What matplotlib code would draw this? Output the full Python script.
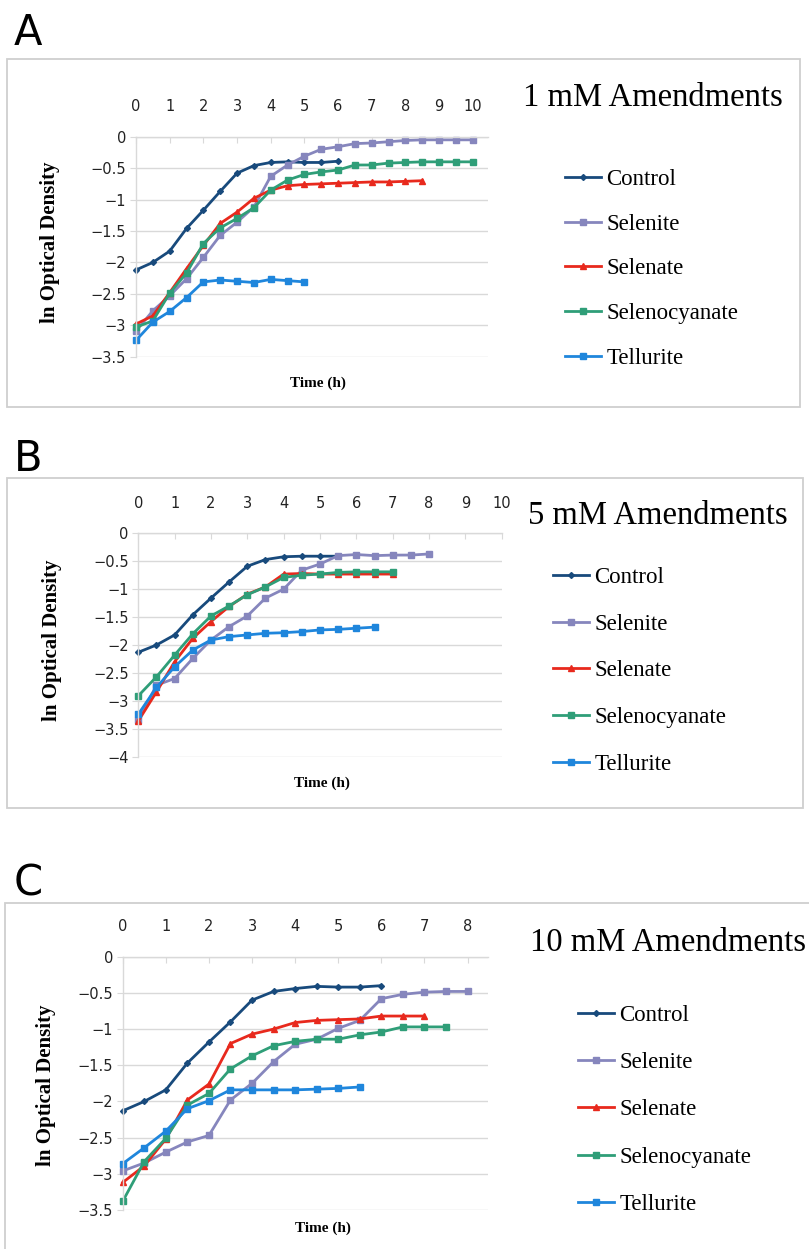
import matplotlib
matplotlib.use("Agg")
import matplotlib.pyplot as plt
from matplotlib.patches import Rectangle

W, H = 809, 1249

series_names = ["Control", "Selenite", "Selenate", "Selenocyanate", "Tellurite"]
colors = ["#184a7c", "#8686bd", "#e8291d", "#2f9e78", "#1f86dc"]
markers = ["D", "s", "^", "s", "s"]
msizes = [3, 4, 4.5, 4, 4]

# --- 1 mM ---
a_control = [-2.12, -2.0, -1.82, -1.46, -1.17, -0.87, -0.58, -0.46, -0.41, -0.4, -0.41, -0.41, -0.39]
a_selenite = [-3.09, -2.77, -2.53, -2.26, -1.92, -1.57, -1.36, -1.12, -0.63, -0.45, -0.31,
              -0.2, -0.16, -0.11, -0.1, -0.08, -0.06, -0.05, -0.05, -0.05, -0.05]
a_selenate = [-2.98, -2.85, -2.48, -2.1, -1.73, -1.38, -1.2, -0.98, -0.85, -0.78, -0.76,
              -0.75, -0.74, -0.73, -0.72, -0.72, -0.71, -0.7]
a_selenocyanate = [-3.03, -2.93, -2.49, -2.17, -1.7, -1.45, -1.3, -1.13, -0.85, -0.69, -0.6,
                   -0.56, -0.53, -0.45, -0.45, -0.42, -0.41, -0.4, -0.4, -0.4, -0.4]
a_tellurite = [-3.24, -2.95, -2.78, -2.56, -2.31, -2.28, -2.3, -2.32, -2.27, -2.29, -2.31]

# --- 5 mM ---
b_control = [-2.13, -2.0, -1.82, -1.46, -1.16, -0.87, -0.59, -0.47, -0.42, -0.41, -0.41, -0.41]
b_selenite = [-3.35, -2.72, -2.6, -2.24, -1.91, -1.67, -1.48, -1.16, -1.0, -0.66, -0.55,
              -0.4, -0.38, -0.4, -0.39, -0.39, -0.37]
b_selenate = [-3.36, -2.84, -2.3, -1.88, -1.58, -1.31, -1.09, -0.96, -0.73, -0.72, -0.73,
              -0.73, -0.73, -0.73, -0.73]
b_selenocyanate = [-2.91, -2.57, -2.18, -1.8, -1.48, -1.3, -1.1, -0.96, -0.79, -0.75, -0.73,
                   -0.7, -0.69, -0.69, -0.69]
b_tellurite = [-3.24, -2.76, -2.39, -2.09, -1.91, -1.85, -1.82, -1.79, -1.78, -1.76, -1.73,
               -1.72, -1.7, -1.68]

# --- 10 mM ---
c_control = [-2.13, -2.0, -1.84, -1.47, -1.18, -0.9, -0.6, -0.48, -0.44, -0.41, -0.42, -0.42, -0.4]
c_selenite = [-2.96, -2.85, -2.7, -2.56, -2.47, -1.98, -1.75, -1.45, -1.21, -1.14, -0.99,
              -0.88, -0.58, -0.52, -0.49, -0.48, -0.48]
c_selenate = [-3.12, -2.89, -2.52, -1.98, -1.76, -1.2, -1.07, -1.0, -0.91, -0.88, -0.87,
              -0.86, -0.82, -0.82, -0.82]
c_selenocyanate = [-3.38, -2.83, -2.51, -2.05, -1.89, -1.55, -1.37, -1.23, -1.17, -1.14, -1.14,
                   -1.08, -1.04, -0.97, -0.97, -0.97]
c_tellurite = [-2.86, -2.64, -2.41, -2.1, -1.99, -1.84, -1.84, -1.84, -1.84, -1.83, -1.82, -1.8]

panels = [
    dict(letter="A", title="1 mM Amendments",
         data=[a_control, a_selenite, a_selenate, a_selenocyanate, a_tellurite],
         xmax=10, xlim=10.45, ymin=-3.5,
         plot=(136, 136.7, 488, 356.7), box=(7, 59, 800, 407), letter_xy=(14, 33),
         title_xy=(653, 98), ylab_xy=(50, 242), xlab_xy=(318, 383),
         leg_xy=(565, 169), leg_space=1.03),
    dict(letter="B", title="5 mM Amendments",
         data=[b_control, b_selenite, b_selenate, b_selenocyanate, b_tellurite],
         xmax=10, xlim=10.0, ymin=-4,
         plot=(138.3, 533.3, 501.7, 756.7), box=(7, 478, 803, 808), letter_xy=(14, 459),
         title_xy=(658, 516), ylab_xy=(52, 640), xlab_xy=(322, 783),
         leg_xy=(553, 567), leg_space=1.12),
    dict(letter="C", title="10 mM Amendments",
         data=[c_control, c_selenite, c_selenate, c_selenocyanate, c_tellurite],
         xmax=8, xlim=8.48, ymin=-3.5,
         plot=(122.7, 956.7, 488.3, 1210), box=(5, 903, 830, 1260), letter_xy=(14, 884),
         title_xy=(668, 943), ylab_xy=(46, 1085), xlab_xy=(323, 1228),
         leg_xy=(578, 1005), leg_space=1.14),
]

grid_col = "#d9d9d9"
fig = plt.figure(figsize=(W / 100, H / 100), dpi=100)


def fx(px):
    return px / W


def fy(py):
    return 1 - py / H


for p in panels:
    x0, y0, x1, y1 = p["box"]
    fig.patches.append(Rectangle((fx(x0), fy(y1)), fx(x1 - x0), (y1 - y0) / H,
                                 transform=fig.transFigure, fill=False,
                                 edgecolor="#cfcfcf", linewidth=1.3, zorder=0))
    fig.text(fx(p["letter_xy"][0]), fy(p["letter_xy"][1]), p["letter"],
             fontsize=30, family="DejaVu Sans", va="center", ha="left")

    l, t, r, b = p["plot"]
    ax = fig.add_axes([fx(l), fy(b), fx(r - l), (b - t) / H])
    for name, vals, c, m, ms in zip(series_names, p["data"], colors, markers, msizes):
        xs = [i * 0.5 for i in range(len(vals))]
        ax.plot(xs, vals, color=c, marker=m, markersize=ms, linewidth=2, label=name,
                clip_on=False)

    ax.set_xlim(0, p["xlim"])
    ax.set_ylim(p["ymin"], 0)
    ax.set_xticks(range(0, p["xmax"] + 1))
    yt = [p["ymin"] + 0.5 * i for i in range(int(-p["ymin"] / 0.5) + 1)]
    ax.set_yticks(yt)
    ax.set_yticklabels(["0" if v == 0 else "−" + f"{-v:g}" for v in yt])
    ax.xaxis.tick_top()
    ax.tick_params(axis="x", direction="in", length=4, color=grid_col, pad=16,
                   labelsize=10.5, labelcolor="#222222")
    ax.tick_params(axis="y", direction="out", length=4, color=grid_col, pad=3,
                   labelsize=10.5, labelcolor="#222222")
    ax.grid(axis="y", color=grid_col, linewidth=1)
    ax.set_axisbelow(True)
    for s in ["right", "bottom"]:
        ax.spines[s].set_visible(False)
    for s in ["left", "top"]:
        ax.spines[s].set_color(grid_col)
        ax.spines[s].set_linewidth(1)

    fig.text(fx(p["ylab_xy"][0]), fy(p["ylab_xy"][1]), "ln Optical Density",
             rotation=90, fontsize=15, family="Liberation Serif", weight="bold",
             ha="center", va="center")
    fig.text(fx(p["xlab_xy"][0]), fy(p["xlab_xy"][1]), "Time (h)",
             fontsize=11, family="Liberation Serif", weight="bold",
             ha="center", va="center")
    fig.text(fx(p["title_xy"][0]), fy(p["title_xy"][1]), p["title"],
             fontsize=23.5, family="Liberation Serif", ha="center", va="center")

    fig.legend(*ax.get_legend_handles_labels(), loc="upper left",
               bbox_to_anchor=(fx(p["leg_xy"][0]), fy(p["leg_xy"][1])),
               frameon=False, prop={"family": "Liberation Serif", "size": 16.5},
               handlelength=1.55, handletextpad=0.26, labelspacing=p["leg_space"],
               borderaxespad=0, borderpad=0)

fig.savefig("out.png", dpi=100)
